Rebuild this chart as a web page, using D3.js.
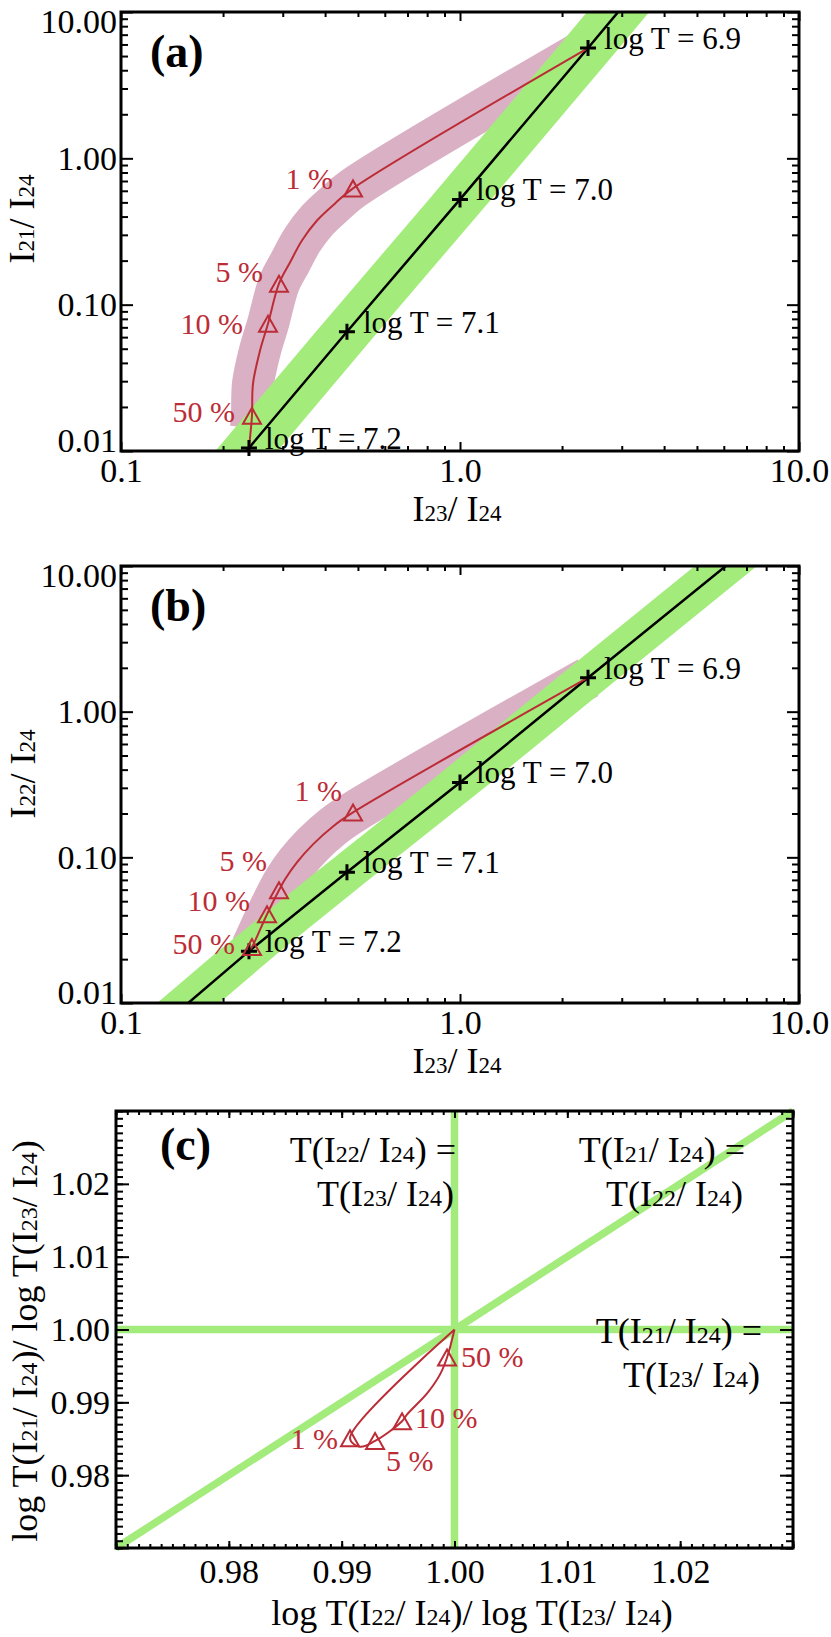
<!DOCTYPE html>
<html>
<head>
<meta charset="utf-8">
<script src="https://cdn.jsdelivr.net/npm/d3@7"></script>
<style>
  body { margin: 0; background: #fff; }
  svg { display: block; }
  text { white-space: pre; font-family: "Liberation Serif", "Times New Roman", serif; }
</style>
</head>
<body>
<svg id="fig" width="831" height="1637"></svg>
<script>
/*------------------------- data -------------------------*/
const tempLabels = ["log T = 6.9", "log T = 7.0", "log T = 7.1", "log T = 7.2"];
const fracLabels = ["1 %", "5 %", "10 %", "50 %"];

// (a) I21/I24 vs I23/I24
const isoA_x = [2.386, 1.0, 0.464, 0.2385];
const isoA_y = [5.67, 0.524, 0.0653, 0.0105];
const isoLineA_x = [3.2, 2.386, 1.0, 0.464, 0.2385, 0.22];
const isoLineA_y = [12.8, 5.67, 0.524, 0.0653, 0.0105, 0.0083];
const mixA_x = [2.386, 0.4835, 0.428, 0.3786, 0.3418, 0.3151, 0.2924, 0.2714, 0.257, 0.2451, 0.2434, 0.2385];
const mixA_y = [5.67, 0.623, 0.492, 0.376, 0.2745, 0.194, 0.139, 0.0741, 0.0484, 0.0288, 0.0174, 0.0105];
const fracA_x = [0.4835, 0.2924, 0.2714, 0.2434];
const fracA_y = [0.623, 0.139, 0.0741, 0.0174];
const bandA_x = [2.386, 0.4835, 0.428, 0.3786, 0.3418, 0.3151, 0.2924, 0.2714, 0.257, 0.2451, 0.2434, 0.2418];
const bandA_y = [5.67, 0.623, 0.492, 0.376, 0.2745, 0.194, 0.139, 0.0741, 0.0484, 0.0288, 0.0174, 0.0144];

// (b) I22/I24 vs I23/I24
const isoB_x = [2.386, 1.0, 0.464, 0.2385];
const isoB_y = [1.71, 0.3264, 0.0789, 0.0227];
const isoLineB_x = [8.9, 2.386, 1.0, 0.464, 0.2385, 0.12];
const isoLineB_y = [20.5, 1.71, 0.3264, 0.0789, 0.0227, 0.0058];
const mixB_x = [2.386, 0.4835, 0.422, 0.3684, 0.3304, 0.3047, 0.2924, 0.2696, 0.2434, 0.2385];
const mixB_y = [1.71, 0.2033, 0.163, 0.1228, 0.0924, 0.0707, 0.0594, 0.0407, 0.0242, 0.0227];
const fracB_x = [0.4835, 0.2924, 0.2696, 0.2434];
const fracB_y = [0.2033, 0.0594, 0.0407, 0.0242];
const bandB_x = [2.386, 0.4835, 0.422, 0.3684, 0.3304, 0.3047, 0.2924, 0.2696, 0.2434];
const bandB_y = [1.71, 0.2033, 0.163, 0.1228, 0.0924, 0.0707, 0.0594, 0.0407, 0.0242];

// ratio uncertainty of the isothermal band (x factor)
const bandFactor = 1.235;

// (c) temperature ratios
const mixC_x = [1.0, 0.99074, 0.99163, 0.99296, 0.99535, 0.99580, 0.99757, 0.99872, 0.99934, 1.0];
const mixC_y = [1.0, 0.98507, 0.98390, 0.98470, 0.98740, 0.98836, 0.99123, 0.99384, 0.99616, 1.0];
const fracC_x = [0.99074, 0.99296, 0.99535, 0.99934];
const fracC_y = [0.98507, 0.98470, 0.98740, 0.99616];
const eqLines_x = [[0.97, 1.03], [1.0, 1.0], [0.97, 1.03]];
const eqLines_y = [[1.0, 1.0], [0.97, 1.03], [0.97, 1.03]];
const eqText = [
    ["T(I_{22}/ I_{24}) =", "T(I_{23}/ I_{24})"],
    ["T(I_{21}/ I_{24}) =", "T(I_{22}/ I_{24})"],
    ["T(I_{21}/ I_{24}) =", "T(I_{23}/ I_{24})"]
];

/*------------------------ styling ------------------------*/
const RED = "#bc2c36", PINK = "#dab1c4", GREEN = "#a3eb7b";
const fig = d3.select("#fig");

// text with _{...} subscripts
function richText(sel, str, size, subSize) {
    str.split(/(_\{[^}]*\})/).filter(s => s.length).forEach(s => {
        if (s.startsWith("_{")) sel.append("tspan").attr("font-size", subSize).text(s.slice(2, -1));
        else sel.append("tspan").attr("font-size", size).text(s);
    });
    return sel;
}

const triPath = "M-9,8L9,8L0,-8Z";
const plusPath = "M-8,0H8M0,-8V8";

function styleAxis(ax) {
    ax.attr("font-size", null).attr("font-family", null);
    ax.select(".domain").remove();
    ax.selectAll("line").attr("stroke-width", 2);
}

// four-sided inward ticks, labels on bottom/left
function drawAxes(g, p, x, y, t) {
    const W = p.w, H = p.h;
    const defs = [
        [d3.axisBottom, x, `translate(0,${H})`, t.xMajor, t.xMinor, t.xLen, t.xFmt],
        [d3.axisTop, x, `translate(0,0)`, t.xMajor, t.xMinor, t.xLen, null],
        [d3.axisLeft, y, `translate(0,0)`, t.yMajor, t.yMinor, t.yLen, t.yFmt],
        [d3.axisRight, y, `translate(${W},0)`, t.yMajor, t.yMinor, t.yLen, null]
    ];
    defs.forEach(([axisFn, sc, tr, major, minor, len, fmt]) => {
        const gMin = g.append("g").attr("transform", tr)
            .call(axisFn(sc).tickValues(minor).tickSize(-len[1]).tickSizeOuter(0).tickFormat(""));
        styleAxis(gMin);
        const gMaj = g.append("g").attr("transform", tr)
            .call(axisFn(sc).tickValues(major).tickSize(-len[0]).tickSizeOuter(0)
                .tickPadding(axisFn === d3.axisBottom ? t.xPad : t.yPad)
                .tickFormat(fmt ? fmt : ""));
        styleAxis(gMaj);
        gMaj.selectAll("text").attr("font-size", 34).attr("fill", "#000");
        if (axisFn === d3.axisLeft && t.clampEnds) {
            // keep end labels inside the frame
            gMaj.selectAll("text").attr("dy", null).attr("y", d => {
                const base = sc(d) + 11;
                return Math.max(20, Math.min(H, base)) - sc(d);
            });
        }
    });
    g.append("rect").attr("width", W).attr("height", H)
        .attr("fill", "none").attr("stroke", "#000").attr("stroke-width", 3);
}

/*---------------------- log panels -----------------------*/
function logPanel(p) {
    const g = fig.append("g").attr("transform", `translate(${p.left},${p.top})`);
    const x = d3.scaleLog().domain([0.1, 10]).range([0, p.w]);
    const y = d3.scaleLog().domain([0.01, 10]).range([p.h, 0]);

    const clipId = "clip-" + p.id;
    g.append("clipPath").attr("id", clipId).append("rect").attr("width", p.w).attr("height", p.h);
    const plot = g.append("g").attr("clip-path", `url(#${clipId})`);

    const smooth = d3.line().x(d => x(d[0])).y(d => y(d[1])).curve(d3.curveCatmullRom.alpha(0.5));
    const straight = d3.line().x(d => x(d[0])).y(d => y(d[1]));
    const band = d3.area()
        .x0(d => x(d[0] / bandFactor)).x1(d => x(d[0] * bandFactor)).y(d => y(d[1]));

    // pink band along the mixture curve
    plot.append("path").datum(d3.zip(p.band_x, p.band_y)).attr("d", smooth)
        .attr("fill", "none").attr("stroke", PINK).attr("stroke-width", 42)
        .attr("stroke-linejoin", "round");
    // green band along the isothermal line
    plot.append("path").datum(d3.zip(p.isoLine_x, p.isoLine_y)).attr("d", band)
        .attr("fill", GREEN);
    plot.append("path").datum(d3.zip(p.isoLine_x, p.isoLine_y)).attr("d", straight)
        .attr("fill", "none").attr("stroke", "#000").attr("stroke-width", 2.5);
    plot.append("path").datum(d3.zip(p.mix_x, p.mix_y)).attr("d", smooth)
        .attr("fill", "none").attr("stroke", RED).attr("stroke-width", 2);

    const iso = d3.zip(p.iso_x, p.iso_y, tempLabels);
    g.selectAll(".plus").data(iso).enter().append("path")
        .attr("transform", d => `translate(${x(d[0])},${y(d[1])})`)
        .attr("d", plusPath).attr("stroke", "#000").attr("stroke-width", 3);
    g.selectAll(".tlab").data(iso).enter().append("text")
        .attr("x", d => x(d[0]) + 16).attr("y", d => y(d[1]) + 1)
        .attr("font-size", 31).text(d => d[2]);

    const frac = d3.zip(p.frac_x, p.frac_y, fracLabels, p.fracOff);
    g.selectAll(".tri").data(frac).enter().append("path")
        .attr("transform", d => `translate(${x(d[0])},${y(d[1])})`)
        .attr("d", triPath).attr("fill", "none").attr("stroke", RED).attr("stroke-width", 2);
    g.selectAll(".flab").data(frac).enter().append("text")
        .attr("x", d => x(d[0]) + d[3][0]).attr("y", d => y(d[1]) + d[3][1])
        .attr("text-anchor", d => d[3][2]).attr("font-size", 30).attr("fill", RED)
        .text(d => d[2]);

    const minorX = x.ticks().filter(v => ![0.1, 1, 10].some(m => Math.abs(v - m) < 1e-9));
    const minorY = y.ticks().filter(v => ![0.01, 0.1, 1, 10].some(m => Math.abs(v - m) < 1e-9));
    drawAxes(g, p, x, y, {
        xMajor: [0.1, 1, 10], xMinor: minorX, xLen: [9, 5], xFmt: d3.format(".1f"), xPad: 7,
        yMajor: [0.01, 0.1, 1, 10], yMinor: minorY, yLen: [12, 7], yFmt: d3.format(".2f"), yPad: 4,
        clampEnds: true
    });

    g.append("text").attr("x", 29).attr("y", 55).attr("font-size", 46).attr("font-weight", "bold")
        .text(p.letter);
    richText(fig.append("text").attr("x", p.xTitle[0]).attr("y", p.xTitle[1])
        .attr("text-anchor", "middle"), "I_{23}/ I_{24}", 36, 23);
    richText(fig.append("text")
        .attr("transform", `translate(${p.yTitle[0]},${p.yTitle[1]}) rotate(-90)`)
        .attr("text-anchor", "middle"), p.yLabel, 36, 23);
}

logPanel({
    id: "a", letter: "(a)", left: 121, top: 12, w: 678, h: 439,
    iso_x: isoA_x, iso_y: isoA_y, isoLine_x: isoLineA_x, isoLine_y: isoLineA_y,
    mix_x: mixA_x, mix_y: mixA_y, frac_x: fracA_x, frac_y: fracA_y,
    band_x: bandA_x, band_y: bandA_y,
    fracOff: [[-20, 1, "end"], [-16, -2, "end"], [-25, 10, "end"], [-17, 6, "end"]],
    xTitle: [457, 521], yTitle: [34, 219], yLabel: "I_{21}/ I_{24}"
});

logPanel({
    id: "b", letter: "(b)", left: 121, top: 566, w: 678, h: 437,
    iso_x: isoB_x, iso_y: isoB_y, isoLine_x: isoLineB_x, isoLine_y: isoLineB_y,
    mix_x: mixB_x, mix_y: mixB_y, frac_x: fracB_x, frac_y: fracB_y,
    band_x: bandB_x, band_y: bandB_y,
    fracOff: [[-11, -11, "end"], [-12, -19, "end"], [-17, -3, "end"], [-17, 7, "end"]],
    xTitle: [457, 1073], yTitle: [35, 774], yLabel: "I_{22}/ I_{24}"
});

/*---------------------- ratio panel ----------------------*/
(function () {
    const p = { left: 116, top: 1111, w: 677, h: 437 };
    const g = fig.append("g").attr("transform", `translate(${p.left},${p.top})`);
    const x = d3.scaleLinear().domain([0.97, 1.03]).range([0, p.w]);
    const y = d3.scaleLinear().domain([0.97, 1.03]).range([p.h, 0]);
    const line = d3.line().x(d => x(d[0])).y(d => y(d[1]));

    eqLines_x.forEach((xs, i) => {
        g.append("path").datum(d3.zip(xs, eqLines_y[i])).attr("d", line)
            .attr("fill", "none").attr("stroke", GREEN).attr("stroke-width", 7.5);
    });

    g.append("path").datum(d3.zip(mixC_x, mixC_y))
        .attr("d", line.curve(d3.curveCatmullRom.alpha(0.5)))
        .attr("fill", "none").attr("stroke", RED).attr("stroke-width", 2);

    const fracOff = [[-12, 11, "end"], [11, 30, "start"], [13, 7, "start"], [14, 10, "start"]];
    const frac = d3.zip(fracC_x, fracC_y, fracLabels, fracOff);
    g.selectAll(".tri").data(frac).enter().append("path")
        .attr("transform", d => `translate(${x(d[0])},${y(d[1])})`)
        .attr("d", triPath).attr("fill", "none").attr("stroke", RED).attr("stroke-width", 2);
    g.selectAll(".flab").data(frac).enter().append("text")
        .attr("x", d => x(d[0]) + d[3][0]).attr("y", d => y(d[1]) + d[3][1])
        .attr("text-anchor", d => d[3][2]).attr("font-size", 30).attr("fill", RED)
        .text(d => d[2]);

    // equality annotations
    const eqPos = [[456, 1162], [745, 1162], [762, 1343]];
    eqText.forEach((lines, i) => {
        lines.forEach((s, j) => {
            richText(fig.append("text").attr("x", eqPos[i][0] - (j ? 2 : 0))
                .attr("y", eqPos[i][1] + j * 44).attr("text-anchor", "end"), s, 36, 24);
        });
    });

    const major = [0.97, 0.98, 0.99, 1.00, 1.01, 1.02, 1.03];
    const minor = x.ticks(60);
    const fmt = v => (v < 0.975 || v > 1.025) ? "" : d3.format(".2f")(v);
    drawAxes(g, p, x, y, {
        xMajor: major, xMinor: minor, xLen: [7, 4], xFmt: fmt, xPad: 11,
        yMajor: major, yMinor: minor, yLen: [13, 7], yFmt: fmt, yPad: 6,
        clampEnds: false
    });

    g.append("text").attr("x", 44).attr("y", 49).attr("font-size", 46).attr("font-weight", "bold")
        .text("(c)");
    richText(fig.append("text").attr("x", 472).attr("y", 1625).attr("text-anchor", "middle"),
        "log T(I_{22}/ I_{24})/ log T(I_{23}/ I_{24})", 36, 24);
    richText(fig.append("text").attr("transform", "translate(37,1341) rotate(-90)")
        .attr("text-anchor", "middle"),
        "log T(I_{21}/ I_{24})/ log T(I_{23}/ I_{24})", 36, 24);
})();
</script>
</body>
</html>
